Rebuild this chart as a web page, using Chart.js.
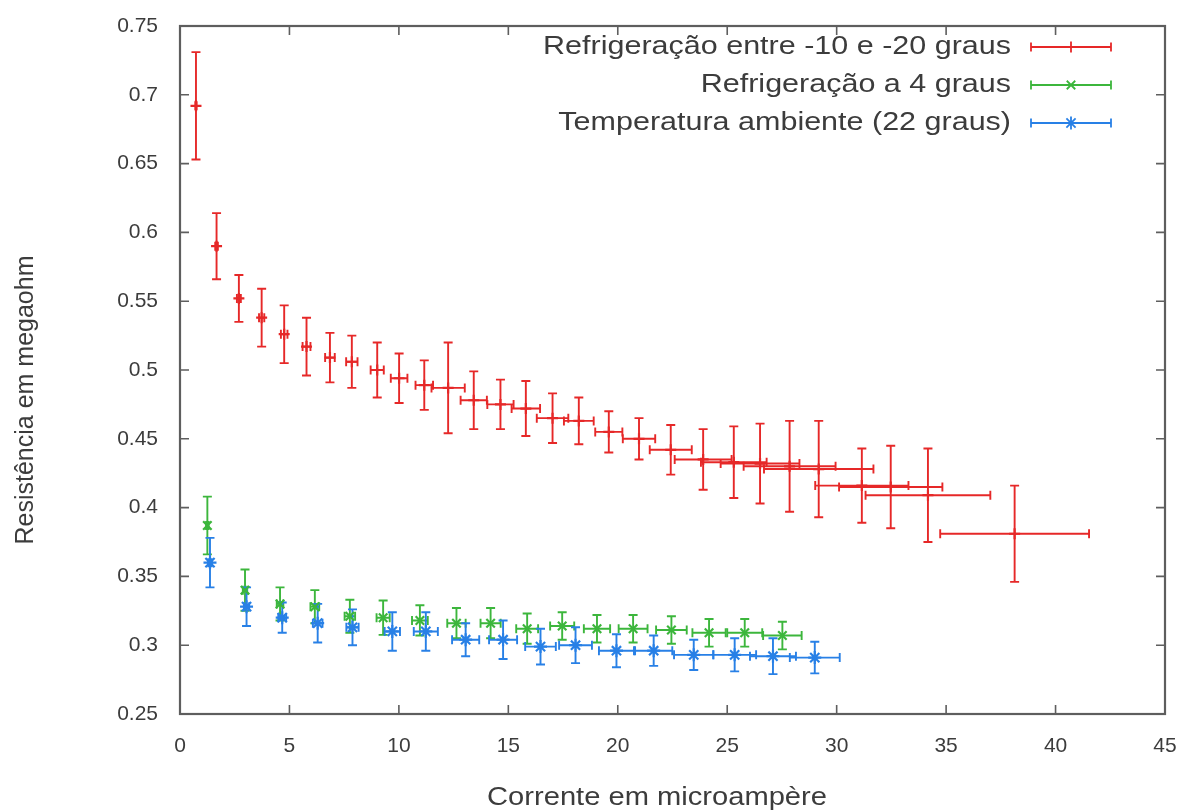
<!DOCTYPE html>
<html>
<head>
<meta charset="utf-8">
<script src="https://cdn.jsdelivr.net/npm/chart.js@4.4.1/dist/chart.umd.min.js"></script>
<style>
html,body{margin:0;padding:0;background:#ffffff;}
canvas{display:block;}
</style>
</head>
<body>
<canvas id="c" width="1178" height="812"></canvas>
<script>
// ---------- data ----------
const seriesLabels = [
  "Refrigeração entre -10 e -20 graus",
  "Refrigeração a 4 graus",
  "Temperatura ambiente (22 graus)"
];
const xTitle = "Corrente em microampère";
const yTitle = "Resistência em megaohm";

const xTicks = [0, 5, 10, 15, 20, 25, 30, 35, 40, 45];
const yTicks = [0.25, 0.3, 0.35, 0.4, 0.45, 0.5, 0.55, 0.6, 0.65, 0.7, 0.75];

// Refrigeração entre -10 e -20 graus
const redX    = [0.73, 1.67, 2.69, 3.73, 4.76, 5.78, 6.85, 7.85, 9.01, 10.01, 11.16, 12.25, 13.42, 14.64, 15.8, 17.02, 18.22, 19.59, 20.97, 22.42, 23.9, 25.3, 26.5, 27.85, 29.18, 31.15, 32.47, 34.17, 38.13];
const redY    = [0.692, 0.590, 0.552, 0.538, 0.526, 0.517, 0.509, 0.506, 0.500, 0.494, 0.489, 0.487, 0.478, 0.475, 0.472, 0.465, 0.463, 0.455, 0.450, 0.442, 0.435, 0.433, 0.432, 0.430, 0.428, 0.416, 0.415, 0.409, 0.381];
const redXErr = [0.03, 0.06, 0.09, 0.12, 0.15, 0.18, 0.22, 0.26, 0.3, 0.38, 0.4, 0.76, 0.6, 0.6, 0.65, 0.72, 0.68, 0.62, 0.74, 0.96, 1.3, 1.5, 1.8, 2.1, 2.5, 2.13, 2.36, 2.85, 3.4];
const redYErr = [0.039, 0.024, 0.017, 0.021, 0.021, 0.021, 0.018, 0.019, 0.020, 0.018, 0.018, 0.033, 0.021, 0.018, 0.020, 0.018, 0.017, 0.015, 0.015, 0.018, 0.022, 0.026, 0.029, 0.033, 0.035, 0.027, 0.030, 0.034, 0.035];

// Refrigeração a 4 graus
const greenX    = [1.25, 2.97, 4.57, 6.16, 7.76, 9.28, 10.96, 12.63, 14.19, 15.86, 17.46, 19.05, 20.7, 22.45, 24.17, 25.8, 27.52];
const greenY    = [0.387, 0.340, 0.330, 0.328, 0.321, 0.320, 0.318, 0.316, 0.316, 0.312, 0.314, 0.312, 0.312, 0.311, 0.309, 0.309, 0.307];
const greenXErr = [0.06, 0.1, 0.15, 0.2, 0.24, 0.3, 0.36, 0.42, 0.46, 0.5, 0.55, 0.6, 0.66, 0.7, 0.76, 0.8, 0.88];
const greenYErr = [0.021, 0.015, 0.012, 0.012, 0.012, 0.0125, 0.011, 0.011, 0.011, 0.011, 0.010, 0.010, 0.010, 0.010, 0.010, 0.010, 0.010];

// Temperatura ambiente (22 graus)
const blueX    = [1.37, 3.04, 4.67, 6.29, 7.88, 9.7, 11.23, 13.05, 14.76, 16.47, 18.07, 19.94, 21.64, 23.47, 25.34, 27.09, 29.0];
const blueY    = [0.360, 0.328, 0.320, 0.316, 0.313, 0.310, 0.310, 0.304, 0.304, 0.299, 0.300, 0.296, 0.296, 0.293, 0.293, 0.292, 0.291];
const blueXErr = [0.08, 0.12, 0.18, 0.22, 0.28, 0.35, 0.55, 0.62, 0.64, 0.7, 0.75, 0.8, 0.85, 0.9, 0.98, 1.05, 1.14];
const blueYErr = [0.018, 0.014, 0.011, 0.014, 0.013, 0.014, 0.014, 0.012, 0.014, 0.013, 0.013, 0.012, 0.011, 0.011, 0.012, 0.013, 0.0115];

// ---------- styles ----------
const RED = "rgb(230,40,40)";
const GREEN = "rgb(60,182,60)";
const BLUE = "rgb(40,128,230)";
const TEXT = "#3c3c3c";
const FRAME = "#5e5e5e";
const FONT_FAMILY = "'Liberation Sans', Arial, sans-serif";

function pts(xs, ys, xe, ye) {
  return xs.map((x, i) => ({ x: x, y: ys[i], xErr: xe[i], yErr: ye[i] }));
}

function stretchedText(ctx, text, x, y, align, sx) {
  ctx.save();
  ctx.translate(x, y);
  ctx.scale(sx, 1);
  ctx.textAlign = align;
  ctx.fillText(text, 0, 0);
  ctx.restore();
}

const errorBarPlugin = {
  id: "errorBars",
  beforeDatasetsDraw(chart) {
    const ctx = chart.ctx;
    const xs = chart.scales.x, ys = chart.scales.y;
    const cap = 4.5;
    ctx.save();
    chart.data.datasets.forEach((ds) => {
      ctx.strokeStyle = ds.borderColor;
      ctx.lineWidth = 1.9;
      ds.data.forEach((p) => {
        const cx = xs.getPixelForValue(p.x), cy = ys.getPixelForValue(p.y);
        const x0 = xs.getPixelForValue(p.x - p.xErr), x1 = xs.getPixelForValue(p.x + p.xErr);
        const y0 = ys.getPixelForValue(p.y - p.yErr), y1 = ys.getPixelForValue(p.y + p.yErr);
        ctx.beginPath();
        ctx.moveTo(x0, cy); ctx.lineTo(x1, cy);
        ctx.moveTo(x0, cy - cap); ctx.lineTo(x0, cy + cap);
        ctx.moveTo(x1, cy - cap); ctx.lineTo(x1, cy + cap);
        ctx.moveTo(cx, y0); ctx.lineTo(cx, y1);
        ctx.moveTo(cx - cap, y0); ctx.lineTo(cx + cap, y0);
        ctx.moveTo(cx - cap, y1); ctx.lineTo(cx + cap, y1);
        ctx.stroke();
      });
    });
    ctx.restore();
  },
  afterDraw(chart) {
    const ctx = chart.ctx;
    const a = chart.chartArea;
    const xs = chart.scales.x, ys = chart.scales.y;
    ctx.save();
    // frame
    ctx.strokeStyle = FRAME;
    ctx.lineWidth = 2.2;
    ctx.strokeRect(a.left, a.top, a.right - a.left, a.bottom - a.top);
    // inward ticks (mirrored)
    const tl = 9;
    ctx.lineWidth = 1.6;
    ctx.beginPath();
    xs.ticks.forEach((t) => {
      const px = xs.getPixelForValue(t.value);
      ctx.moveTo(px, a.bottom); ctx.lineTo(px, a.bottom - tl);
      ctx.moveTo(px, a.top); ctx.lineTo(px, a.top + tl);
    });
    ys.ticks.forEach((t) => {
      const py = ys.getPixelForValue(t.value);
      ctx.moveTo(a.left, py); ctx.lineTo(a.left + tl, py);
      ctx.moveTo(a.right, py); ctx.lineTo(a.right - tl, py);
    });
    ctx.stroke();

    // axis titles
    ctx.fillStyle = TEXT;
    ctx.font = "25px " + FONT_FAMILY;
    ctx.textBaseline = "middle";
    stretchedText(ctx, xTitle, 657, 798, "center", 1.165);
    ctx.save();
    ctx.translate(26, 400);
    ctx.rotate(-Math.PI / 2);
    ctx.textAlign = "center";
    ctx.fillText(yTitle, 0, 0);
    ctx.restore();

    // legend
    const rows = [47, 85, 123];
    const textRight = 1011, lx0 = 1031, lx1 = 1111;
    ctx.font = "25px " + FONT_FAMILY;
    chart.data.datasets.forEach((ds, i) => {
      const y = rows[i];
      ctx.fillStyle = TEXT;
      stretchedText(ctx, ds.label, textRight, y, "right", 1.22);
      ctx.strokeStyle = ds.borderColor;
      ctx.lineWidth = 1.8;
      ctx.beginPath();
      ctx.moveTo(lx0, y); ctx.lineTo(lx1, y);
      ctx.moveTo(lx0, y - 4.5); ctx.lineTo(lx0, y + 4.5);
      ctx.moveTo(lx1, y - 4.5); ctx.lineTo(lx1, y + 4.5);
      ctx.stroke();
      ctx.fillStyle = ds.borderColor;
      Chart.helpers.drawPoint(ctx, {
        pointStyle: ds.pointStyle, radius: ds.pointRadius, rotation: 0, borderWidth: 2
      }, (lx0 + lx1) / 2, y);
    });
    ctx.restore();
  }
};

const ctx = document.getElementById("c").getContext("2d");
const chart = new Chart(ctx, {
  type: "scatter",
  data: {
    datasets: [
      { label: seriesLabels[0], data: pts(redX, redY, redXErr, redYErr), borderColor: RED, backgroundColor: RED, pointStyle: "cross", pointRadius: 5.5, borderWidth: 2.2 },
      { label: seriesLabels[1], data: pts(greenX, greenY, greenXErr, greenYErr), borderColor: GREEN, backgroundColor: GREEN, pointStyle: "crossRot", pointRadius: 6, borderWidth: 2.2 },
      { label: seriesLabels[2], data: pts(blueX, blueY, blueXErr, blueYErr), borderColor: BLUE, backgroundColor: BLUE, pointStyle: "star", pointRadius: 6.5, borderWidth: 2.2 }
    ]
  },
  options: {
    responsive: false,
    animation: false,
    events: [],
    layout: { padding: { left: 0, top: 26, right: 13, bottom: 0 } },
    plugins: { legend: { display: false }, tooltip: { enabled: false }, title: { display: false } },
    scales: {
      x: {
        type: "linear", min: 0, max: 45,
        afterBuildTicks(s) { s.ticks = xTicks.map(v => ({ value: v })); },
        ticks: { color: TEXT, font: { family: FONT_FAMILY, size: 21 }, padding: 20, maxRotation: 0, callback: v => String(v) },
        grid: { display: false, drawTicks: false },
        border: { display: false },
        afterFit(s) { s.height = 98; s.paddingLeft = 0; s.paddingRight = 0; }
      },
      y: {
        type: "linear", min: 0.25, max: 0.75,
        afterBuildTicks(s) { s.ticks = yTicks.map(v => ({ value: v })); },
        ticks: { color: TEXT, font: { family: FONT_FAMILY, size: 21 }, padding: 22, callback: v => String(+Number(v).toFixed(2)) },
        grid: { display: false, drawTicks: false },
        border: { display: false },
        afterFit(s) { s.width = 180; s.paddingTop = 0; s.paddingBottom = 0; }
      }
    }
  },
  plugins: [errorBarPlugin]
});
</script>
</body>
</html>
